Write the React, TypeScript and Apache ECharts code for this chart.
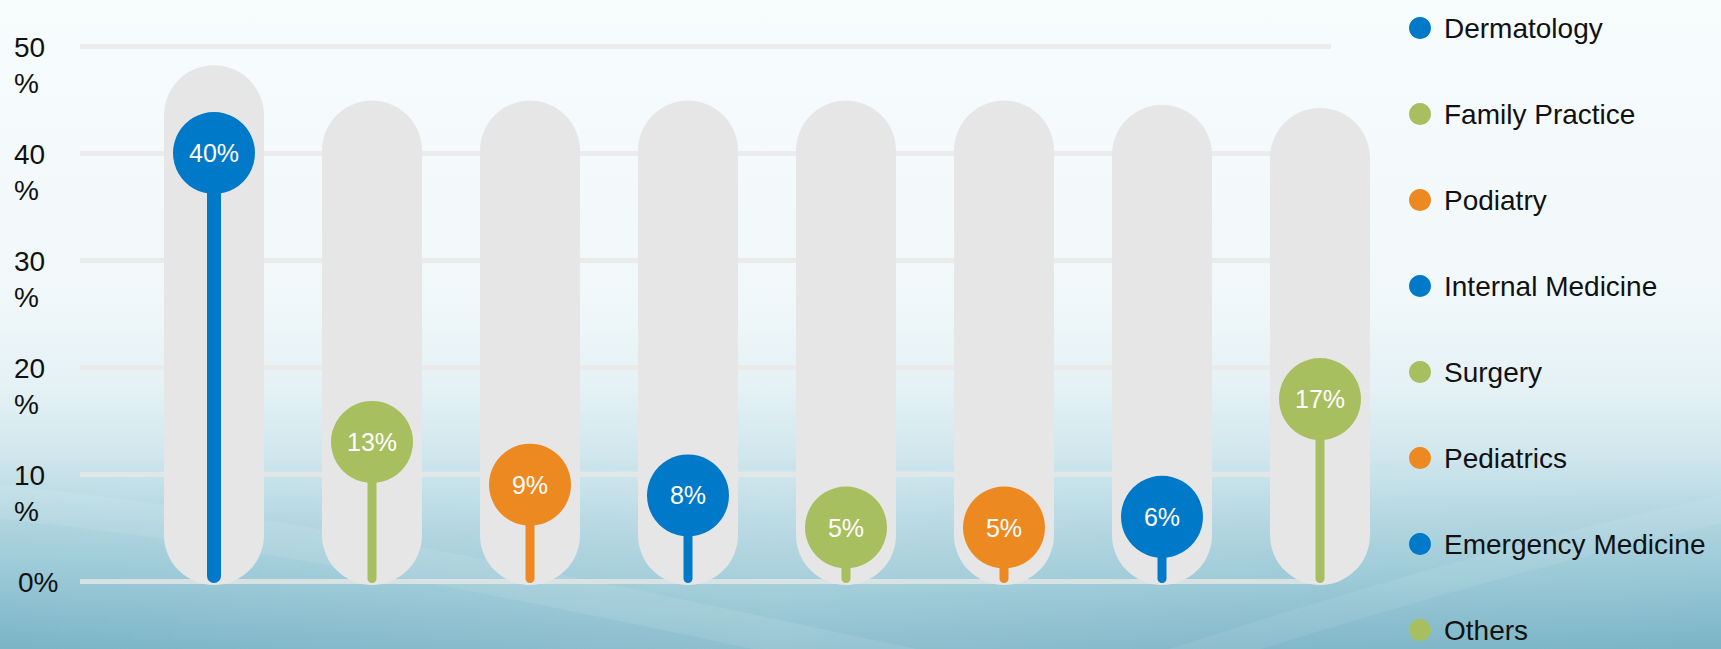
import React, { useEffect, useRef } from "react";
import * as echarts from "echarts";

const categories = [
  "Dermatology",
  "Family Practice",
  "Podiatry",
  "Internal Medicine",
  "Surgery",
  "Pediatrics",
  "Emergency Medicine",
  "Others",
];
const shares = [40, 13, 9, 8, 5, 5, 6, 17];
const trackTops = [48.2, 44.9, 44.9, 44.9, 44.9, 44.9, 44.5, 44.2];
const yTicks = [0, 10, 20, 30, 40, 50];

const BLUE = "#0079c8";
const GREEN = "#a8bf60";
const ORANGE = "#ed8921";
const colors = [BLUE, GREEN, ORANGE, BLUE, GREEN, ORANGE, BLUE, GREEN];

const FONT = '"Liberation Sans", Arial, Helvetica, sans-serif';

export default function App() {
  const ref = useRef<HTMLDivElement>(null);

  useEffect(() => {
    document.body.style.margin = "0";
    if (!ref.current) return;
    const chart = echarts.init(ref.current, null, { renderer: "svg" });

    const series = categories.map((name, i) => ({
      type: "custom",
      name,
      xAxisIndex: 1,
      yAxisIndex: 1,
      color: colors[i],
      data: [[i, shares[i], trackTops[i]]],
      renderItem: (params: any, api: any) => {
        const x = api.value(0);
        const v = api.value(1);
        const t = api.value(2);
        const base = api.coord([x, 0]);
        const top = api.coord([x, v]);
        const tr = api.coord([x, t]);
        const capW = 100;
        const stemW = i === 0 ? 14 : 9;
        const capBottom = base[1] + 4;
        return {
          type: "group",
          children: [
            {
              type: "rect",
              shape: {
                x: base[0] - capW / 2,
                y: tr[1],
                width: capW,
                height: capBottom - tr[1],
                r: capW / 2,
              },
              style: { fill: "#e6e6e6" },
            },
            {
              type: "line",
              shape: {
                x1: base[0],
                y1: base[1] + 2 - stemW / 2,
                x2: top[0],
                y2: top[1],
              },
              style: { stroke: colors[i], lineWidth: stemW, lineCap: "round" },
            },
            {
              type: "circle",
              shape: { cx: top[0], cy: top[1], r: 41 },
              style: { fill: colors[i] },
            },
            {
              type: "text",
              x: top[0],
              y: top[1],
              style: {
                text: v + "%",
                align: "center",
                verticalAlign: "middle",
                fill: "#ffffff",
                fontSize: 25,
                fontFamily: FONT,
              },
            },
          ],
        };
      },
    }));

    const labelText = { fontSize: 28, fontFamily: FONT, color: "#111111" };

    const option: any = {
      animation: false,
      backgroundColor: new echarts.graphic.LinearGradient(0, 0, 0, 1, [
        { offset: 0, color: "#f7fcfd" },
        { offset: 0.45, color: "#f1f8fa" },
        { offset: 0.6, color: "#e4f1f5" },
        { offset: 0.7, color: "#d0e7ed" },
        { offset: 0.8, color: "#b0d5e0" },
        { offset: 0.9, color: "#95c6d4" },
        { offset: 1, color: "#7ab4c6" },
      ]),
      graphic: [
        {
          type: "rect",
          silent: true,
          z: -2,
          shape: { x: 0, y: 470, width: 1721, height: 179 },
          style: {
            fill: new echarts.graphic.LinearGradient(0, 0, 1, 0, [
              { offset: 0, color: "rgba(255,255,255,0)" },
              { offset: 0.45, color: "rgba(255,255,255,0.16)" },
              { offset: 0.75, color: "rgba(255,255,255,0.06)" },
              { offset: 1, color: "rgba(255,255,255,0)" },
            ]),
          },
        },
        {
          type: "bezierCurve",
          silent: true,
          z: -1,
          shape: { x1: -20, y1: 500, cpx1: 300, cpy1: 530, cpx2: 650, cpy2: 610, x2: 980, y2: 680 },
          style: { stroke: "rgba(255,255,255,0.09)", lineWidth: 34, fill: "none" },
        },
        {
          type: "bezierCurve",
          silent: true,
          z: -1,
          shape: { x1: 1150, y1: 670, cpx1: 1380, cpy1: 595, cpx2: 1560, cpy2: 545, x2: 1740, y2: 505 },
          style: { stroke: "rgba(255,255,255,0.08)", lineWidth: 28, fill: "none" },
        },
      ],
      legend: {
        orient: "vertical",
        left: 1409,
        top: 14,
        height: 760,
        padding: 0,
        itemWidth: 22,
        itemHeight: 22,
        itemGap: 58,
        icon: "circle",
        selectedMode: false,
        data: categories,
        textStyle: {
          fontSize: 28,
          lineHeight: 28,
          color: "#111111",
          fontFamily: FONT,
          padding: [0, 0, 0, 8],
        },
      },
      grid: [
        { left: 80, right: 390, top: 46, bottom: 68, outerBoundsMode: "none" },
        { left: 135, right: 322, top: 46, bottom: 68, outerBoundsMode: "none" },
      ],
      xAxis: [
        { type: "category", gridIndex: 0, data: categories, show: false },
        { type: "category", gridIndex: 1, data: categories, show: false },
      ],
      yAxis: [
        {
          type: "value",
          gridIndex: 0,
          min: yTicks[0],
          max: yTicks[yTicks.length - 1],
          interval: 10,
          axisLine: { show: false },
          axisTick: { show: false },
          splitLine: {
            show: true,
            lineStyle: { color: "rgba(232,232,230,0.78)", width: 5 },
          },
          axisLabel: {
            align: "left",
            margin: 66,
            verticalAlign: "top",
            showMaxLabel: true,
            showMinLabel: true,
            hideOverlap: false,
            formatter: (v: number) =>
              v === 0 ? "{z|" + v + "%}" : "{n|" + v + "}\n{p|%}",
            rich: {
              z: { ...labelText, lineHeight: 2, padding: [0, 0, 0, 4] },
              n: { ...labelText, lineHeight: 2 },
              p: { ...labelText, lineHeight: 70 },
            },
          },
        },
        {
          type: "value",
          gridIndex: 1,
          min: yTicks[0],
          max: yTicks[yTicks.length - 1],
          interval: 10,
          show: false,
          splitLine: { show: false },
        },
      ],
      series,
    };

    chart.setOption(option);
    return () => chart.dispose();
  }, []);

  return <div ref={ref} style={{ width: 1721, height: 649 }} />;
}
